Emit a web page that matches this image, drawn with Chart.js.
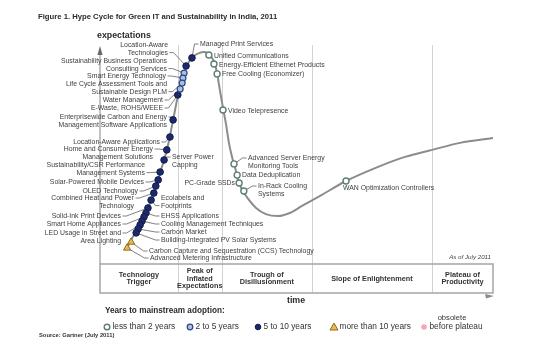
<!DOCTYPE html>
<html>
<head>
<meta charset="utf-8">
<script src="https://cdn.jsdelivr.net/npm/chart.js@4.4.1/dist/chart.umd.min.js"></script>
<style>
  html, body { margin: 0; padding: 0; background: #fff; }
</style>
</head>
<body>
<canvas id="hype" width="552" height="362"></canvas>
<script>
// Hype curve: time (0-100) against expectations (0-100)
const curveTime = [6.6, 7.9, 9.4, 10.7, 12.0, 13.0, 14.0, 14.8, 15.5, 16.3, 17.0, 17.6, 18.1, 18.6, 19.1,
  19.6, 20.4, 20.9, 21.6, 22.6, 23.9, 25.2, 26.5, 27.7, 28.8, 29.5, 30.0, 30.5, 31.3, 32.1, 32.8, 33.6,
  34.4, 35.1, 36.1, 37.7, 39.7, 42.2, 45.3, 48.3, 51.4, 56.0, 62.6, 70.0, 77.6, 84.5, 91.6, 100];
const curveExp = [6.4, 11.0, 15.5, 20.1, 24.7, 29.2, 33.8, 38.4, 42.9, 47.5, 52.1, 56.6, 61.2, 65.8, 70.3,
  74.9, 79.5, 84.0, 88.6, 92.2, 95.0, 96.3, 96.8, 95.9, 93.2, 89.5, 84.9, 79.5, 71.2, 63.5, 55.3, 48.9,
  43.8, 38.4, 34.2, 29.7, 25.6, 22.8, 21.9, 23.3, 26.5, 31.1, 37.9, 43.8, 48.9, 52.1, 55.3, 57.5];

// Technologies on the curve
const techNames = [
  'Managed Print Services',
  'Location-Aware\nTechnologies',
  'Sustainability Business Operations\nConsulting Services',
  'Smart Energy Technology',
  'Life Cycle Assessment Tools and\nSustainable Design PLM',
  'Water Management',
  'E-Waste, ROHS/WEEE',
  'Enterprisewide Carbon and Energy\nManagement Software Applications',
  'Location-Aware Applications',
  'Home and Consumer Energy\nManagement Solutions',
  'Server Power\nCapping',
  'Sustainability/CSR Performance\nManagement Systems',
  'Solar-Powered Mobile Devices',
  'OLED Technology',
  'Combined Heat and Power\nTechnology',
  'Ecolabels and\nFootprints',
  'Solid-Ink Print Devices',
  'EHSS Applications',
  'Smart Home Appliances',
  'Cooling Management Techniques',
  'LED Usage in Street and\nArea Lighting',
  'Carbon Market',
  'Building-Integrated PV Solar Systems',
  'Carbon Capture and Sequestration (CCS) Technology',
  'Advanced Metering Infrastructure',
  'Unified Communications',
  'Energy-Efficient Ethernet Products',
  'Free Cooling (Economizer)',
  'Video Telepresence',
  'Advanced Server Energy\nMonitoring Tools',
  'Data Deduplication',
  'PC-Grade SSDs',
  'In-Rack Cooling\nSystems',
  'WAN Optimization Controllers'
];
const techTime = [23.4, 21.9, 21.4, 21.1, 20.9, 20.4, 19.8, 18.6, 17.8, 17.0, 16.3, 15.3, 14.8, 14.2, 13.7,
  13.0, 12.2, 11.7, 11.2, 10.7, 10.2, 9.7, 9.2, 7.9, 6.9, 27.7, 29.0, 29.8, 31.3, 34.1, 34.9, 35.4, 36.6, 62.6];
const techExp = [94.1, 90.4, 87.2, 84.9, 82.6, 79.9, 77.2, 65.8, 58.0, 52.1, 47.5, 42.0, 38.4, 35.6, 32.4,
  29.2, 25.6, 23.3, 21.5, 19.6, 17.8, 16.0, 14.2, 10.0, 7.3, 95.4, 91.3, 86.8, 70.3, 45.7, 40.6, 37.0, 33.3, 37.9];
const techAdoption = ['5to10', '5to10', '2to5', '2to5', '2to5', '2to5', '5to10', '5to10', '5to10', '5to10',
  '5to10', '5to10', '5to10', '5to10', '5to10', '5to10', '5to10', '5to10', '5to10', '5to10', '5to10', '5to10',
  '5to10', 'gt10', 'gt10', 'lt2', 'lt2', 'lt2', 'lt2', 'lt2', 'lt2', 'lt2', 'lt2', 'lt2'];

// Phases along the time axis
const phaseNames = [['Technology', 'Trigger'], ['Peak of', 'Inflated', 'Expectations'],
  ['Trough of', 'Disillusionment'], ['Slope of Enlightenment'], ['Plateau of', 'Productivity']];
const phaseEnds = [19.8, 31.0, 53.9, 84.5, 100];

// label placement in pixels: x, y of first line, align, line the leader starts from (-1 = none)
const labelLayout = [
  [200, 44, 'left', 0], [168, 45, 'right', 1], [167, 61, 'right', 1], [166, 76, 'right', 0],
  [167, 84, 'right', 1], [163, 100, 'right', 0], [163, 108, 'right', 0], [167, 117, 'right', 0],
  [160, 142, 'right', 0], [153, 149, 'right', 0], [172, 157, 'left', 0], [145, 165, 'right', 1],
  [144, 182, 'right', 0], [138, 191, 'right', 0], [134, 198, 'right', 0], [161, 198, 'left', 1],
  [121, 216, 'right', 0], [161, 216, 'left', 0], [121, 224, 'right', 0], [161, 224, 'left', 0],
  [121, 233, 'right', 0], [161, 232, 'left', 0], [161, 240, 'left', 0], [149, 251, 'left', 0],
  [150, 258, 'left', 0], [214, 56, 'left', -1], [219, 65, 'left', -1], [222, 74, 'left', -1],
  [228, 111, 'left', -1], [248, 158, 'left', 0], [242, 175, 'left', -1], [235, 183, 'right', -1],
  [258, 186, 'left', 0], [343, 188, 'left', -1]
];

const adoptionStyle = {
  lt2:   { label: 'less than 2 years',  shape: 'circle',   r: 3,   bg: '#ffffff', border: '#5e7e76', bw: 1.4 },
  '2to5':{ label: '2 to 5 years',       shape: 'circle',   r: 3,   bg: '#a9c1e0', border: '#2c4686', bw: 1.2 },
  '5to10':{ label: '5 to 10 years',     shape: 'circle',   r: 3.3, bg: '#1c2a6c', border: '#111a4a', bw: 1 },
  gt10:  { label: 'more than 10 years', shape: 'triangle', r: 4.2, bg: '#ecbc4a', border: '#8b6a22', bw: 1 }
};

const ink = '#3b3b3b';
const labelFont = '6.9px "Liberation Sans", Arial, sans-serif';
const lineH = 7.6;

function text(ctx, s, x, y, font, align, color) {
  ctx.font = font;
  ctx.textAlign = align || 'left';
  ctx.textBaseline = 'middle';
  ctx.fillStyle = color || ink;
  ctx.fillText(s, x, y);
}
function seg(ctx, x1, y1, x2, y2) {
  ctx.beginPath(); ctx.moveTo(x1, y1); ctx.lineTo(x2, y2); ctx.stroke();
}

const hypeFrame = {
  id: 'hypeFrame',
  beforeDatasetsDraw(chart) {
    const { ctx, chartArea } = chart;
    const x = chart.scales.x, y = chart.scales.y;
    const left = x.getPixelForValue(0), right = x.getPixelForValue(100);
    const base = y.getPixelForValue(0), bandBottom = base + 29;
    ctx.save();
    // phase dividers
    ctx.strokeStyle = '#d2d2d2'; ctx.lineWidth = 1;
    phaseEnds.slice(0, -1).forEach(t => {
      const px = Math.round(x.getPixelForValue(t)) + 0.5;
      seg(ctx, px, chartArea.top, px, bandBottom);
    });
    // y axis with arrow
    ctx.strokeStyle = '#9a9a9a'; ctx.lineWidth = 1.2;
    seg(ctx, left, chartArea.top + 8, left, base);
    ctx.fillStyle = '#6a6a6a';
    ctx.beginPath(); ctx.moveTo(left, chartArea.top + 1); ctx.lineTo(left - 2.6, chartArea.top + 10);
    ctx.lineTo(left + 2.6, chartArea.top + 10); ctx.closePath(); ctx.fill();
    // phase band
    ctx.strokeStyle = '#a5a5a5'; ctx.lineWidth = 1.5;
    ctx.strokeRect(left, base, right - left, bandBottom - base);
    // time arrow
    ctx.fillStyle = '#8a8a8a';
    ctx.beginPath(); ctx.moveTo(right + 1, bandBottom + 3); ctx.lineTo(right - 8, bandBottom + 1);
    ctx.lineTo(right - 7, bandBottom + 5.5); ctx.closePath(); ctx.fill();
    // leader lines
    ctx.strokeStyle = '#4a4a4a'; ctx.lineWidth = 0.7;
    techNames.forEach((n, i) => {
      const [lx, ly, align, li] = labelLayout[i];
      if (li < 0) return;
      const px = x.getPixelForValue(techTime[i]), py = y.getPixelForValue(techExp[i]);
      const sy = ly + li * lineH;
      const sx = align === 'right' ? lx + 1.5 : lx - 1.5;
      const bx = align === 'right' ? sx + 4 : sx - 4;
      ctx.beginPath(); ctx.moveTo(sx, sy); ctx.lineTo(bx, sy); ctx.lineTo(px, py); ctx.stroke();
    });
    ctx.restore();
  },
  afterDatasetsDraw(chart) {
    const { ctx } = chart;
    const x = chart.scales.x, y = chart.scales.y;
    const base = y.getPixelForValue(0);
    ctx.save();
    // point labels
    techNames.forEach((n, i) => {
      const [lx, ly, align] = labelLayout[i];
      n.split('\n').forEach((s, k) => text(ctx, s, lx, ly + k * lineH, labelFont, align, '#404040'));
    });
    // title and axis names
    text(ctx, 'Figure 1. Hype Cycle for Green IT and Sustainability in India, 2011', 38, 17,
      'bold 7.7px "Liberation Sans", Arial, sans-serif', 'left', '#2a2a2a');
    text(ctx, 'expectations', 97, 36, 'bold 8.8px "Liberation Sans", Arial, sans-serif', 'left', '#2a2a2a');
    text(ctx, 'time', 296, 301, 'bold 8.8px "Liberation Sans", Arial, sans-serif', 'center', '#2a2a2a');
    text(ctx, 'As of July 2011', 491, 257, 'italic 6.2px "Liberation Sans", Arial, sans-serif', 'right', '#444');
    // phase names
    let from = 0;
    phaseEnds.forEach((t, i) => {
      const cx = (x.getPixelForValue(from) + x.getPixelForValue(t)) / 2;
      const lines = phaseNames[i];
      const y0 = base + 14.5 - (lines.length - 1) * 7.8 / 2;
      lines.forEach((s, k) => text(ctx, s, cx, y0 + k * 7.8, 'bold 7.3px "Liberation Sans", Arial, sans-serif', 'center', '#333'));
      from = t;
    });
    // legend
    text(ctx, 'Years to mainstream adoption:', 105, 311, 'bold 8.2px "Liberation Sans", Arial, sans-serif', 'left', '#2a2a2a');
    const ly = 327;
    const items = [['lt2', 107], ['2to5', 190], ['5to10', 258], ['gt10', 334]];
    items.forEach(([k, ix]) => {
      const st = adoptionStyle[k];
      ctx.fillStyle = st.bg; ctx.strokeStyle = st.border; ctx.lineWidth = st.bw;
      ctx.beginPath();
      if (st.shape === 'triangle') {
        ctx.moveTo(ix, ly - 4); ctx.lineTo(ix - 4, ly + 3); ctx.lineTo(ix + 4, ly + 3); ctx.closePath();
      } else {
        ctx.arc(ix, ly, 2.8, 0, Math.PI * 2);
      }
      ctx.fill(); ctx.stroke();
      text(ctx, st.label, ix + 5.5, ly, '8.3px "Liberation Sans", Arial, sans-serif', 'left', '#333');
    });
    ctx.fillStyle = '#f2a7b5';
    ctx.beginPath(); ctx.arc(424, ly, 2.8, 0, Math.PI * 2); ctx.fill();
    text(ctx, 'obsolete', 452, 318, '7.6px "Liberation Sans", Arial, sans-serif', 'center', '#333');
    text(ctx, 'before plateau', 429.5, ly, '8.3px "Liberation Sans", Arial, sans-serif', 'left', '#333');
    text(ctx, 'Source: Gartner (July 2011)', 39, 335, 'bold 5.8px "Liberation Sans", Arial, sans-serif', 'left', '#333');
    ctx.restore();
  }
};

const techSets = Object.keys(adoptionStyle).map(k => {
  const st = adoptionStyle[k];
  const pts = [];
  techNames.forEach((n, i) => {
    if (techAdoption[i] === k) pts.push({ x: techTime[i], y: techExp[i] });
  });
  return {
    label: st.label,
    data: pts,
    pointStyle: st.shape,
    pointRadius: st.r,
    pointBackgroundColor: st.bg,
    pointBorderColor: st.border,
    pointBorderWidth: st.bw,
    order: k === '5to10' ? 2 : 1
  };
});

new Chart(document.getElementById('hype').getContext('2d'), {
  type: 'scatter',
  data: {
    datasets: [{
      label: 'Hype Cycle',
      data: curveTime.map((t, i) => ({ x: t, y: curveExp[i] })),
      showLine: true,
      borderColor: '#8c8c8c',
      borderWidth: 2,
      pointRadius: 0,
      cubicInterpolationMode: 'monotone',
      order: 10
    }, ...techSets]
  },
  options: {
    responsive: false,
    animation: false,
    devicePixelRatio: 1,
    layout: { padding: { left: 100, right: 59, top: 45, bottom: 98 } },
    scales: {
      x: { type: 'linear', min: 0, max: 100, display: false },
      y: { type: 'linear', min: 0, max: 100, display: false }
    },
    plugins: { legend: { display: false }, tooltip: { enabled: false } },
    events: []
  },
  plugins: [hypeFrame]
});
</script>
</body>
</html>
